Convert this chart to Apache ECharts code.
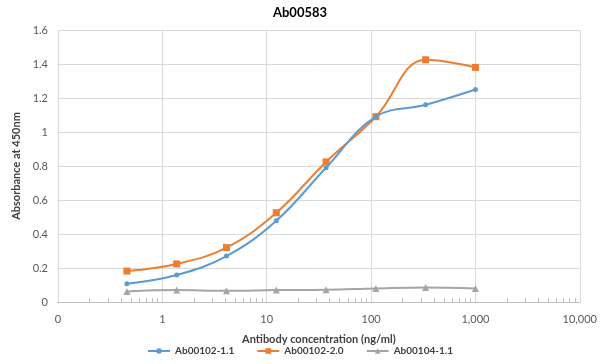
<!DOCTYPE html>
<html>
<head>
<meta charset="utf-8">
<script src="https://cdn.jsdelivr.net/npm/echarts@6/dist/echarts.min.js"></script>
<style>html,body{margin:0;padding:0;background:#fff}#c{width:600px;height:364px}</style>
</head>
<body>
<div id="c"></div>
<script>
var concentrations = [0.457, 1.372, 4.115, 12.35, 37.04, 111.1, 333.3, 1000];
var seriesNames = ['Ab00102-1.1', 'Ab00102-2.0', 'Ab00104-1.1'];
var ab00102_11 = [0.108, 0.159, 0.270, 0.478, 0.790, 1.090, 1.160, 1.250];
var ab00102_20 = [0.182, 0.224, 0.320, 0.525, 0.824, 1.090, 1.425, 1.380];
var ab00104_11 = [0.062, 0.070, 0.066, 0.070, 0.072, 0.080, 0.086, 0.080];
var yTicks = [0, 0.2, 0.4, 0.6, 0.8, 1, 1.2, 1.4, 1.6];
var xDecades = [0.1, 1, 10, 100, 1000, 10000];

var minorTicks = [];
for (var d = 0; d < xDecades.length - 1; d++) {
  for (var m = 2; m <= 9; m++) minorTicks.push(+(xDecades[d] * m).toPrecision(6));
}
function pairs(vals) { return concentrations.map(function (x, i) { return [x, vals[i]]; }); }
var FONT = 'Lato';
var colors = ['#5B9BD5', '#ED7D31', '#A5A5A5'];
var symbols = ['circle', 'rect', 'triangle'];
var sizes = [5, 7, 7];
var all = [ab00102_11, ab00102_20, ab00104_11];

var chart = echarts.init(document.getElementById('c'));
chart.setOption({
  animation: false,
  textStyle: { fontFamily: FONT },
  title: {
    text: 'Ab00583', left: 'center', top: 1,
    textStyle: { fontFamily: FONT, fontSize: 13, fontWeight: 'bold', color: '#000' }
  },
  grid: { left: 58, right: 20, top: 30, bottom: 62 },
  legend: {
    bottom: 3, left: 'center', itemGap: 22, itemWidth: 22, itemHeight: 7,
    textStyle: { fontFamily: FONT, fontSize: 10, fontWeight: 'bold', color: '#404040' },
    data: seriesNames
  },
  xAxis: [{
    type: 'log', logBase: 10, min: xDecades[0], max: xDecades[xDecades.length - 1],
    name: 'Antibody concentration (ng/ml)', nameLocation: 'middle', nameGap: 32,
    nameTextStyle: { fontFamily: FONT, fontSize: 11, fontWeight: 'bold', color: '#404040' },
    axisLine: { show: true, lineStyle: { color: '#bfbfbf', width: 1 } },
    axisTick: { show: false },
    axisLabel: {
      customValues: xDecades, margin: 12, fontSize: 11, color: '#595959', fontFamily: FONT,
      formatter: function (v) { return v < 1 ? '0' : Math.round(v).toLocaleString('en-US'); }
    },
    splitLine: { show: true, customValues: xDecades, lineStyle: { color: '#d9d9d9', width: 1 } },
    minorSplitLine: { show: false }
  }, {
    type: 'log', logBase: 10, min: xDecades[0], max: xDecades[xDecades.length - 1],
    position: 'bottom', gridIndex: 0,
    axisLine: { show: false },
    axisLabel: { show: false },
    splitLine: { show: false },
    axisTick: { show: true, inside: true, length: 4, customValues: minorTicks, lineStyle: { color: '#bfbfbf' } }
  }],
  yAxis: {
    type: 'value', min: yTicks[0], max: yTicks[yTicks.length - 1], interval: 0.2,
    name: 'Absorbance at 450nm', nameLocation: 'middle', nameGap: 36, nameRotate: 90,
    nameTextStyle: { fontFamily: FONT, fontSize: 11, fontWeight: 'bold', color: '#404040' },
    axisLine: { show: false }, axisTick: { show: false },
    axisLabel: { fontSize: 11, color: '#595959', margin: 10, fontFamily: FONT },
    splitLine: { lineStyle: { color: '#d9d9d9', width: 1 } }
  },
  series: all.map(function (vals, i) {
    return {
      name: seriesNames[i], type: 'line', xAxisIndex: 0, data: pairs(vals),
      smooth: 0.4, symbol: symbols[i], symbolSize: sizes[i], showSymbol: true,
      itemStyle: { color: colors[i] },
      lineStyle: { color: colors[i], width: 2 },
      z: 3 - i
    };
  })
});
</script>
</body>
</html>
